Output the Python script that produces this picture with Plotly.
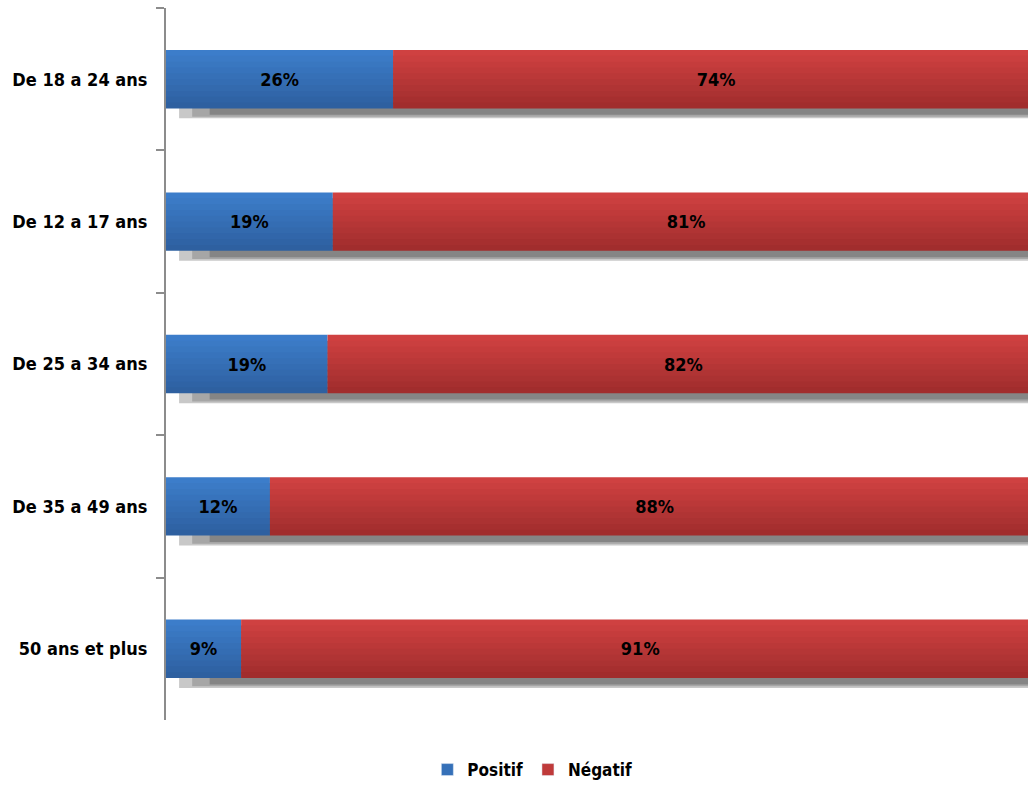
import plotly.graph_objects as go

categories = ["De 18 a 24 ans", "De 12 a 17 ans", "De 25 a 34 ans", "De 35 a 49 ans", "50 ans et plus"]
positif = [26.0, 19.1, 18.5, 11.9, 8.6]
negatif = [74.0, 80.9, 81.5, 88.1, 91.4]
positif_labels = ["26%", "19%", "19%", "12%", "9%"]
negatif_labels = ["74%", "81%", "82%", "88%", "91%"]
totals = [100, 100, 100, 100, 100]

FONT = "DejaVu Sans Condensed, Liberation Sans Narrow, Arial Narrow, DejaVu Sans, sans-serif"
BW = 0.41
NB = 10

def mix(c1, c2, t):
    a = [int(c1[i:i+2], 16) for i in (1, 3, 5)]
    b = [int(c2[i:i+2], 16) for i in (1, 3, 5)]
    return "rgb(%d,%d,%d)" % tuple(round(a[k] + (b[k] - a[k]) * t) for k in range(3))

fig = go.Figure()

# shadow beneath bars (layered tones for a soft gradient)
for base_v, off_v, col in [(1.5, 0.07, "#c8c8c8"), (3.0, 0.058, "#a6a6a6"), (5.0, 0.045, "#858585")]:
    fig.add_trace(go.Bar(y=categories, x=[t - base_v for t in totals], base=[base_v] * 5, orientation="h",
                         width=BW, offset=-BW / 2 + off_v, marker=dict(color=col, line=dict(width=0)),
                         showlegend=False, hoverinfo="skip"))

# gradient bands
for i in range(NB):
    t = (i + 0.5) / NB
    off = -BW / 2 + i * BW / NB
    w = BW / NB + (0.012 if i < NB - 1 else 0)
    fig.add_trace(go.Bar(y=categories, x=positif, base=[0] * 5, orientation="h",
                         width=w, offset=off,
                         marker=dict(color=mix("#3d7fcc", "#2d5e9e", t), line=dict(width=0)),
                         showlegend=False, hoverinfo="skip"))
    fig.add_trace(go.Bar(y=categories, x=negatif, base=positif, orientation="h",
                         width=w, offset=off,
                         marker=dict(color=mix("#d24242", "#9e2c2c", t), line=dict(width=0)),
                         showlegend=False, hoverinfo="skip"))

# labels
fig.add_trace(go.Bar(y=categories, x=positif, base=[0] * 5, orientation="h", width=BW,
                     marker=dict(color="rgba(0,0,0,0)", line=dict(width=0)), text=positif_labels, textposition="inside",
                     insidetextanchor="middle", textfont=dict(family=FONT, size=18, color="black", weight="bold"),
                     showlegend=False, hoverinfo="skip"))
fig.add_trace(go.Bar(y=categories, x=negatif, base=positif, orientation="h", width=BW,
                     marker=dict(color="rgba(0,0,0,0)", line=dict(width=0)), text=negatif_labels, textposition="inside",
                     insidetextanchor="middle", textfont=dict(family=FONT, size=18, color="black", weight="bold"),
                     showlegend=False, hoverinfo="skip"))

# legend entries
fig.add_trace(go.Bar(y=[categories[0]], x=[None], orientation="h", name="Positif", marker=dict(color="#3570b8")))
fig.add_trace(go.Bar(y=[categories[0]], x=[None], orientation="h", name="Négatif", marker=dict(color="#bf3a3a")))

fig.update_layout(
    width=1028, height=785,
    margin=dict(l=166, r=0, t=8, b=65, autoexpand=False),
    barmode="overlay",
    plot_bgcolor="white", paper_bgcolor="white",
    font=dict(family=FONT, size=18, color="black"),
    legend=dict(orientation="h", x=0.425, xanchor="center", y=-0.045, yanchor="top",
                font=dict(family=FONT, size=17, color="black", weight="bold"),
                itemwidth=30, traceorder="normal"),
)
fig.update_xaxes(range=[0, 98.7], visible=False, showgrid=False, zeroline=False)
fig.update_yaxes(type="category", categoryorder="array", categoryarray=categories, autorange="reversed",
                 showline=True, linecolor="#8c8c8c", linewidth=2, ticks="outside", tickson="boundaries",
                 ticklen=8, tickcolor="#8c8c8c", tickwidth=2, showgrid=False, zeroline=False,
                 ticklabelstandoff=13,
                 tickfont=dict(family=FONT, size=18, color="black", weight="bold"))

fig.write_html("out.html", config={"displayModeBar": False},
               post_script="document.body.style.margin='0';document.body.style.padding='0';")
